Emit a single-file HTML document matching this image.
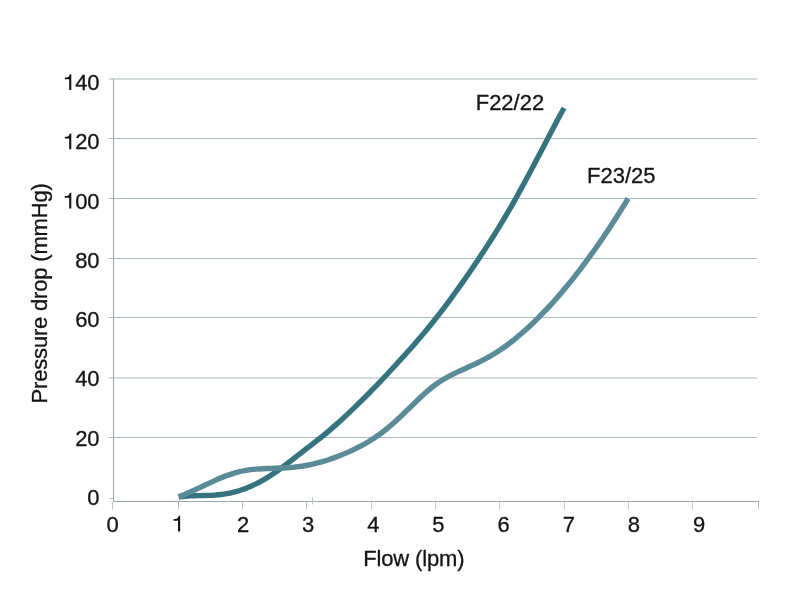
<!DOCTYPE html>
<html><head><meta charset="utf-8"><title>Pressure drop vs flow</title>
<style>
html,body{margin:0;padding:0;background:#fff;}
body{width:800px;height:600px;overflow:hidden;font-family:"Liberation Sans",sans-serif;}
svg{display:block;will-change:transform;}
</style></head><body>
<svg width="800" height="600" viewBox="0 0 800 600">
<rect width="800" height="600" fill="#ffffff"/>
<line x1="108.8" y1="79.00" x2="757.2" y2="79.00" stroke="#a7b7bd" stroke-width="1"/>
<line x1="108.8" y1="138.50" x2="757.2" y2="138.50" stroke="#a7b7bd" stroke-width="1"/>
<line x1="108.8" y1="198.50" x2="757.2" y2="198.50" stroke="#a7b7bd" stroke-width="1"/>
<line x1="108.8" y1="258.50" x2="757.2" y2="258.50" stroke="#a7b7bd" stroke-width="1"/>
<line x1="108.8" y1="317.50" x2="757.2" y2="317.50" stroke="#a7b7bd" stroke-width="1"/>
<line x1="108.8" y1="378.00" x2="757.2" y2="378.00" stroke="#a7b7bd" stroke-width="1"/>
<line x1="108.8" y1="437.50" x2="757.2" y2="437.50" stroke="#a7b7bd" stroke-width="1"/>
<line x1="109" y1="498.5" x2="113.5" y2="498.5" stroke="#bcc4c7" stroke-width="1"/>
<line x1="113.5" y1="78.5" x2="113.5" y2="502" stroke="#9ba6aa" stroke-width="1"/>
<line x1="113" y1="501.5" x2="759" y2="501.5" stroke="#9ba6aa" stroke-width="1"/>
<line x1="112.5" y1="502" x2="112.5" y2="509.5" stroke="#bcc4c7" stroke-width="1"/>
<line x1="178.5" y1="502" x2="178.5" y2="509.5" stroke="#bcc4c7" stroke-width="1"/>
<line x1="242.5" y1="502" x2="242.5" y2="509.5" stroke="#bcc4c7" stroke-width="1"/>
<line x1="306.5" y1="502" x2="306.5" y2="509.5" stroke="#bcc4c7" stroke-width="1"/>
<line x1="371.5" y1="502" x2="371.5" y2="509.5" stroke="#bcc4c7" stroke-width="1"/>
<line x1="435.5" y1="502" x2="435.5" y2="509.5" stroke="#bcc4c7" stroke-width="1"/>
<line x1="499.5" y1="502" x2="499.5" y2="509.5" stroke="#bcc4c7" stroke-width="1"/>
<line x1="564.5" y1="502" x2="564.5" y2="509.5" stroke="#bcc4c7" stroke-width="1"/>
<line x1="628.5" y1="502" x2="628.5" y2="509.5" stroke="#bcc4c7" stroke-width="1"/>
<line x1="692.5" y1="502" x2="692.5" y2="509.5" stroke="#bcc4c7" stroke-width="1"/>
<line x1="758.5" y1="502" x2="758.5" y2="509.5" stroke="#bcc4c7" stroke-width="1"/>
<line x1="312.5" y1="497.5" x2="312.5" y2="504.5" stroke="#bcc4c7" stroke-width="1"/>
<path d="M178.75,496.88 C179.75,496.77 182.76,496.41 184.77,496.25 C186.78,496.08 188.78,495.97 190.79,495.88 C192.80,495.78 194.80,495.73 196.81,495.67 C198.82,495.62 200.82,495.59 202.83,495.54 C204.83,495.48 206.84,495.44 208.85,495.37 C210.85,495.29 212.86,495.21 214.87,495.07 C216.87,494.93 218.88,494.77 220.89,494.54 C222.89,494.31 224.90,494.04 226.91,493.69 C228.91,493.34 230.92,492.92 232.93,492.43 C234.93,491.94 236.94,491.38 238.95,490.76 C240.95,490.13 242.96,489.44 244.96,488.68 C246.97,487.92 248.98,487.09 250.98,486.20 C252.99,485.32 255.00,484.36 257.00,483.34 C259.01,482.33 261.02,481.25 263.02,480.11 C265.03,478.97 267.04,477.76 269.04,476.50 C271.05,475.24 273.06,473.91 275.06,472.54 C277.07,471.16 279.08,469.71 281.08,468.24 C283.09,466.77 285.10,465.24 287.10,463.71 C289.11,462.17 291.11,460.60 293.12,459.04 C295.13,457.48 297.13,455.91 299.14,454.35 C301.15,452.80 303.15,451.27 305.16,449.72 C307.17,448.18 309.17,446.66 311.18,445.11 C313.19,443.56 315.19,442.01 317.20,440.42 C319.21,438.84 321.21,437.24 323.22,435.60 C325.23,433.96 327.23,432.28 329.24,430.57 C331.24,428.87 333.25,427.12 335.26,425.35 C337.26,423.57 339.27,421.77 341.28,419.94 C343.28,418.11 345.29,416.24 347.30,414.36 C349.30,412.48 351.31,410.56 353.32,408.63 C355.32,406.70 357.33,404.75 359.34,402.78 C361.34,400.80 363.35,398.81 365.36,396.80 C367.36,394.80 369.37,392.77 371.38,390.73 C373.38,388.69 375.39,386.65 377.39,384.57 C379.40,382.49 381.41,380.40 383.41,378.26 C385.42,376.13 387.43,373.96 389.43,371.78 C391.44,369.61 393.45,367.40 395.45,365.21 C397.46,363.01 399.47,360.82 401.47,358.62 C403.48,356.41 405.49,354.21 407.49,351.98 C409.50,349.75 411.51,347.51 413.51,345.23 C415.52,342.95 417.52,340.65 419.53,338.30 C421.54,335.95 423.54,333.57 425.55,331.14 C427.56,328.72 429.56,326.25 431.57,323.75 C433.58,321.25 435.58,318.71 437.59,316.13 C439.60,313.56 441.60,310.94 443.61,308.30 C445.62,305.65 447.62,302.97 449.63,300.26 C451.64,297.55 453.64,294.80 455.65,292.03 C457.65,289.25 459.66,286.45 461.67,283.61 C463.67,280.77 465.68,277.91 467.69,275.01 C469.69,272.12 471.70,269.20 473.71,266.25 C475.71,263.29 477.72,260.31 479.73,257.29 C481.73,254.27 483.74,251.22 485.75,248.12 C487.75,245.03 489.76,241.89 491.77,238.72 C493.77,235.54 495.78,232.32 497.79,229.06 C499.79,225.79 501.80,222.48 503.80,219.12 C505.81,215.75 507.82,212.34 509.82,208.87 C511.83,205.41 513.84,201.89 515.84,198.31 C517.85,194.73 519.86,191.09 521.86,187.41 C523.87,183.74 525.88,180.00 527.88,176.25 C529.89,172.49 531.90,168.69 533.90,164.89 C535.91,161.09 537.92,157.25 539.92,153.42 C541.93,149.59 543.93,145.74 545.94,141.91 C547.95,138.08 549.95,134.25 551.96,130.45 C553.97,126.65 555.97,122.85 557.98,119.10 C559.99,115.35 563.00,109.81 564.00,107.95" fill="none" stroke="#35747f" stroke-width="5.4" stroke-linejoin="round"/>
<path d="M178.75,496.81 C179.75,496.41 182.74,495.25 184.74,494.41 C186.74,493.58 188.74,492.69 190.73,491.80 C192.73,490.90 194.73,489.97 196.72,489.03 C198.72,488.10 200.72,487.14 202.72,486.20 C204.71,485.26 206.71,484.30 208.71,483.37 C210.70,482.44 212.70,481.51 214.70,480.61 C216.70,479.72 218.69,478.84 220.69,478.01 C222.69,477.18 224.68,476.37 226.68,475.63 C228.68,474.89 230.67,474.19 232.67,473.56 C234.67,472.93 236.67,472.35 238.66,471.86 C240.66,471.36 242.66,470.95 244.65,470.58 C246.65,470.22 248.65,469.93 250.65,469.68 C252.64,469.43 254.64,469.24 256.64,469.08 C258.63,468.91 260.63,468.79 262.63,468.69 C264.63,468.58 266.62,468.52 268.62,468.44 C270.62,468.37 272.61,468.33 274.61,468.26 C276.61,468.20 278.61,468.15 280.60,468.07 C282.60,467.99 284.60,467.91 286.59,467.79 C288.59,467.67 290.59,467.53 292.59,467.34 C294.58,467.15 296.58,466.92 298.58,466.66 C300.57,466.39 302.57,466.08 304.57,465.74 C306.57,465.39 308.56,465.00 310.56,464.58 C312.56,464.15 314.55,463.69 316.55,463.18 C318.55,462.68 320.54,462.14 322.54,461.56 C324.54,460.99 326.54,460.37 328.53,459.72 C330.53,459.06 332.53,458.37 334.52,457.65 C336.52,456.92 338.52,456.16 340.52,455.36 C342.51,454.56 344.51,453.72 346.51,452.86 C348.50,451.99 350.50,451.08 352.50,450.14 C354.50,449.20 356.49,448.23 358.49,447.21 C360.49,446.19 362.48,445.13 364.48,444.01 C366.48,442.89 368.48,441.73 370.47,440.49 C372.47,439.25 374.47,437.96 376.46,436.59 C378.46,435.21 380.46,433.77 382.46,432.24 C384.45,430.71 386.45,429.09 388.45,427.41 C390.44,425.74 392.44,423.98 394.44,422.19 C396.44,420.39 398.43,418.53 400.43,416.66 C402.43,414.78 404.42,412.85 406.42,410.92 C408.42,408.99 410.41,407.03 412.41,405.09 C414.41,403.16 416.41,401.21 418.40,399.32 C420.40,397.43 422.40,395.55 424.39,393.77 C426.39,391.98 428.39,390.23 430.39,388.59 C432.38,386.95 434.38,385.39 436.38,383.95 C438.37,382.51 440.37,381.20 442.37,379.96 C444.37,378.72 446.36,377.59 448.36,376.51 C450.36,375.43 452.35,374.44 454.35,373.47 C456.35,372.50 458.35,371.60 460.34,370.68 C462.34,369.77 464.34,368.90 466.33,368.00 C468.33,367.10 470.33,366.21 472.33,365.29 C474.32,364.36 476.32,363.43 478.32,362.46 C480.31,361.48 482.31,360.49 484.31,359.44 C486.31,358.39 488.30,357.32 490.30,356.17 C492.30,355.03 494.29,353.84 496.29,352.57 C498.29,351.31 500.28,349.98 502.28,348.59 C504.28,347.20 506.28,345.75 508.27,344.24 C510.27,342.74 512.27,341.17 514.26,339.55 C516.26,337.94 518.26,336.27 520.26,334.55 C522.25,332.84 524.25,331.07 526.25,329.26 C528.24,327.45 530.24,325.60 532.24,323.70 C534.24,321.79 536.23,319.85 538.23,317.85 C540.23,315.86 542.22,313.82 544.22,311.73 C546.22,309.65 548.22,307.52 550.21,305.34 C552.21,303.17 554.21,300.95 556.20,298.68 C558.20,296.41 560.20,294.10 562.20,291.75 C564.19,289.40 566.19,287.00 568.19,284.55 C570.18,282.11 572.18,279.63 574.18,277.10 C576.18,274.57 578.17,271.99 580.17,269.38 C582.17,266.76 584.16,264.10 586.16,261.40 C588.16,258.70 590.15,255.95 592.15,253.16 C594.15,250.37 596.15,247.54 598.14,244.67 C600.14,241.80 602.14,238.89 604.13,235.93 C606.13,232.98 608.13,229.98 610.13,226.94 C612.12,223.90 614.12,220.82 616.12,217.70 C618.11,214.58 620.11,211.42 622.11,208.22 C624.11,205.02 627.10,200.11 628.10,198.49" fill="none" stroke="#5a8b98" stroke-width="5.4" stroke-linejoin="round"/>
<text transform="translate(99.60,90.10) scale(1,1.035)" text-anchor="end" style="font-family:'Liberation Sans',sans-serif;font-size:22px;fill:#141414;stroke:#141414;stroke-width:0.3px">40</text>
<path transform="translate(62.89,90.10)" d="M8.4,0 L8.4,-15.75 L6.9,-15.75 C6.7,-14.6 6.2,-13.6 5.4,-13.15 C4.5,-12.65 3.3,-12.55 1.9,-12.55 L1.9,-10.75 L6.3,-10.75 L6.3,0 Z" fill="#141414"/>
<text transform="translate(99.60,149.36) scale(1,1.035)" text-anchor="end" style="font-family:'Liberation Sans',sans-serif;font-size:22px;fill:#141414;stroke:#141414;stroke-width:0.3px">20</text>
<path transform="translate(62.89,149.36)" d="M8.4,0 L8.4,-15.75 L6.9,-15.75 C6.7,-14.6 6.2,-13.6 5.4,-13.15 C4.5,-12.65 3.3,-12.55 1.9,-12.55 L1.9,-10.75 L6.3,-10.75 L6.3,0 Z" fill="#141414"/>
<text transform="translate(99.60,208.62) scale(1,1.035)" text-anchor="end" style="font-family:'Liberation Sans',sans-serif;font-size:22px;fill:#141414;stroke:#141414;stroke-width:0.3px">00</text>
<path transform="translate(62.89,208.62)" d="M8.4,0 L8.4,-15.75 L6.9,-15.75 C6.7,-14.6 6.2,-13.6 5.4,-13.15 C4.5,-12.65 3.3,-12.55 1.9,-12.55 L1.9,-10.75 L6.3,-10.75 L6.3,0 Z" fill="#141414"/>
<text transform="translate(99.60,267.88) scale(1,1.035)" text-anchor="end" style="font-family:'Liberation Sans',sans-serif;font-size:22px;fill:#141414;stroke:#141414;stroke-width:0.3px">80</text>
<text transform="translate(99.60,327.14) scale(1,1.035)" text-anchor="end" style="font-family:'Liberation Sans',sans-serif;font-size:22px;fill:#141414;stroke:#141414;stroke-width:0.3px">60</text>
<text transform="translate(99.60,386.40) scale(1,1.035)" text-anchor="end" style="font-family:'Liberation Sans',sans-serif;font-size:22px;fill:#141414;stroke:#141414;stroke-width:0.3px">40</text>
<text transform="translate(99.60,445.66) scale(1,1.035)" text-anchor="end" style="font-family:'Liberation Sans',sans-serif;font-size:22px;fill:#141414;stroke:#141414;stroke-width:0.3px">20</text>
<text transform="translate(99.60,504.92) scale(1,1.035)" text-anchor="end" style="font-family:'Liberation Sans',sans-serif;font-size:22px;fill:#141414;stroke:#141414;stroke-width:0.3px">0</text>
<text transform="translate(112.70,531.60) scale(1,1.035)" text-anchor="middle" style="font-family:'Liberation Sans',sans-serif;font-size:22px;fill:#141414;stroke:#141414;stroke-width:0.3px">0</text>
<path transform="translate(171.73,531.60)" d="M8.4,0 L8.4,-15.75 L6.9,-15.75 C6.7,-14.6 6.2,-13.6 5.4,-13.15 C4.5,-12.65 3.3,-12.55 1.9,-12.55 L1.9,-10.75 L6.3,-10.75 L6.3,0 Z" fill="#141414"/>
<text transform="translate(243.00,531.60) scale(1,1.035)" text-anchor="middle" style="font-family:'Liberation Sans',sans-serif;font-size:22px;fill:#141414;stroke:#141414;stroke-width:0.3px">2</text>
<text transform="translate(308.15,531.60) scale(1,1.035)" text-anchor="middle" style="font-family:'Liberation Sans',sans-serif;font-size:22px;fill:#141414;stroke:#141414;stroke-width:0.3px">3</text>
<text transform="translate(373.30,531.60) scale(1,1.035)" text-anchor="middle" style="font-family:'Liberation Sans',sans-serif;font-size:22px;fill:#141414;stroke:#141414;stroke-width:0.3px">4</text>
<text transform="translate(438.45,531.60) scale(1,1.035)" text-anchor="middle" style="font-family:'Liberation Sans',sans-serif;font-size:22px;fill:#141414;stroke:#141414;stroke-width:0.3px">5</text>
<text transform="translate(503.60,531.60) scale(1,1.035)" text-anchor="middle" style="font-family:'Liberation Sans',sans-serif;font-size:22px;fill:#141414;stroke:#141414;stroke-width:0.3px">6</text>
<text transform="translate(568.75,531.60) scale(1,1.035)" text-anchor="middle" style="font-family:'Liberation Sans',sans-serif;font-size:22px;fill:#141414;stroke:#141414;stroke-width:0.3px">7</text>
<text transform="translate(633.90,531.60) scale(1,1.035)" text-anchor="middle" style="font-family:'Liberation Sans',sans-serif;font-size:22px;fill:#141414;stroke:#141414;stroke-width:0.3px">8</text>
<text transform="translate(699.05,531.60) scale(1,1.035)" text-anchor="middle" style="font-family:'Liberation Sans',sans-serif;font-size:22px;fill:#141414;stroke:#141414;stroke-width:0.3px">9</text>
<text transform="translate(363.20,565.50) scale(1,1.035)" text-anchor="start" style="font-family:'Liberation Sans',sans-serif;font-size:22px;fill:#141414;stroke:#141414;stroke-width:0.3px;letter-spacing:-0.13px">Flow (lpm)</text>
<text transform="translate(475.70,109.50) scale(1,1.035)" text-anchor="start" style="font-family:'Liberation Sans',sans-serif;font-size:22px;fill:#141414;stroke:#141414;stroke-width:0.3px">F22/22</text>
<text transform="translate(587.00,182.50) scale(1,1.035)" text-anchor="start" style="font-family:'Liberation Sans',sans-serif;font-size:22px;fill:#141414;stroke:#141414;stroke-width:0.3px">F23/25</text>
<text transform="translate(47.30,403.40) rotate(-90) scale(1,1.035)" text-anchor="start" style="font-family:'Liberation Sans',sans-serif;font-size:22px;fill:#141414;stroke:#141414;stroke-width:0.3px;letter-spacing:-0.18px">Pressure drop (mmHg)</text>
</svg>
</body></html>
